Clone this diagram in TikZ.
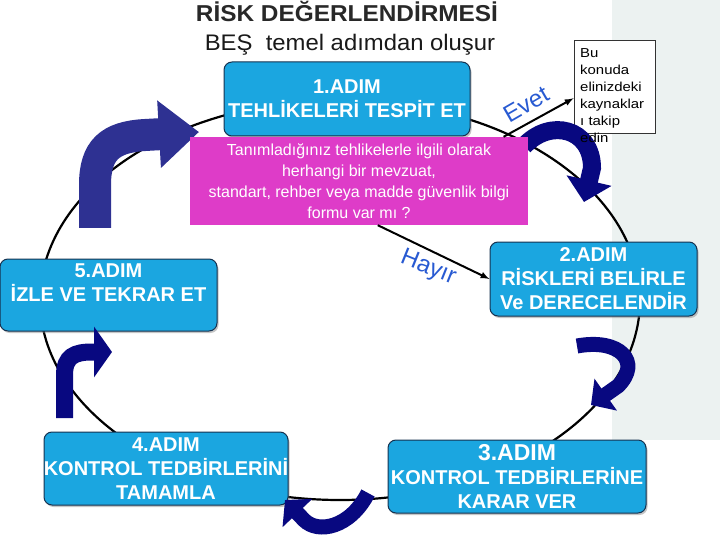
\documentclass[tikz,border=0pt]{standalone}
\usepackage{fontspec}
\setmainfont{Liberation Sans}
\newfontfamily\baslikfont{Liberation Sans}[FakeStretch=1.06]
\newfontfamily\notfont{Liberation Sans}[FakeStretch=1.15]
\usetikzlibrary{arrows.meta,shadows}
\definecolor{adimmavi}{RGB}{27,166,224}
\definecolor{kenar}{RGB}{22,50,80}
\definecolor{pembe}{RGB}{222,60,200}
\definecolor{lacivert}{RGB}{8,8,128}
\definecolor{morlacivert}{RGB}{46,49,146}
\definecolor{etiketmavi}{RGB}{40,90,210}
\definecolor{zemin}{RGB}{236,242,241}
\definecolor{baslikrenk}{RGB}{40,40,40}
\begin{document}
\begin{tikzpicture}[x=1pt, y=-1pt, >=latex,
    adim/.style={draw=kenar, line width=1pt, fill=adimmavi, rounded corners=8pt, text=white, align=center,
      font=\fontsize{20}{24}\selectfont\bfseries, inner sep=0pt,
      drop shadow={shadow xshift=1.5pt, shadow yshift=-2pt, opacity=0.45}},
    kalin/.style={draw=lacivert, line width=#1},
    ok/.style={->, line width=2pt},
    etiket/.style={text=etiketmavi, font=\fontsize{24}{24}\selectfont}]
  \useasboundingbox (0,0) rectangle (720,540);
  \fill[zemin] (612,0) rectangle (720,440);

  % title
  \node[font=\baslikfont\fontsize{23}{23}\selectfont\bfseries, text=baslikrenk, anchor=base, inner sep=0pt] (baslik) at (347,22) {RİSK DEĞERLENDİRMESİ};
  \node[font=\baslikfont\fontsize{22.5}{23}\selectfont, text=black!90, anchor=base, inner sep=0pt] (altbaslik) at (350,51) {BEŞ\ \ temel adımdan oluşur};

  % the cycle
  \draw[line width=2.2pt] (340,300) ellipse [x radius=300pt, y radius=200pt];

  % steps
  \node[adim, minimum width=246pt, minimum height=74pt] (adim1) at (347,99) {1.ADIM\\TEHLİKELERİ TESPİT ET};
  \node[adim, minimum width=207pt, minimum height=74pt] (adim2) at (593.5,279) {2.ADIM\\RİSKLERİ BELİRLE\\Ve DERECELENDİR};
  \node[adim, minimum width=258pt, minimum height=73pt] (adim3) at (517,476.5) {{\fontsize{23}{24}\selectfont 3.ADIM}\\KONTROL TEDBİRLERİNE\\KARAR VER};
  \node[adim, minimum width=244pt, minimum height=73pt] (adim4) at (166,468.5) {4.ADIM\\\makebox[0pt]{KONTROL TEDBİRLERİNİ}\\TAMAMLA};
  \node[adim, minimum width=217pt, minimum height=72pt] (adim5) at (108.5,295) {5.ADIM\\İZLE VE TEKRAR ET\\\mbox{}};
  \node[draw=black!80, fill=white, line width=0.8pt, minimum width=81pt, minimum height=93pt] (not) at (614.5,86.5) {};

  % thick turning arrows
  \draw[kalin=18pt, -{Triangle[length=22pt,width=45pt]}] (524,146) .. controls (550,118) and (592,128) .. (592,168) -- (584,202);
  \draw[kalin=32pt, draw=morlacivert, -{Triangle[length=40pt,width=65pt]}] (95,228) -- (95,185) .. controls (95,150) and (110,137) .. (145,135) -- (199,132);
  \draw[kalin=15pt, -{Triangle[length=18pt,width=38pt]}] (577,346) .. controls (620,338) and (642,362) .. (618,386) -- (591,405);
  \draw[kalin=15pt, -{Triangle[length=18pt,width=40pt]}] (368,493) .. controls (350,528) and (318,534) .. (304,520) -- (285,500);
  \draw[kalin=17pt, -{Triangle[length=18pt,width=50pt]}] (64.5,418) -- (64.5,375) .. controls (64.5,356) and (75,352) .. (92,352) -- (112,352);

  % question
  \node[fill=pembe, minimum width=338pt, minimum height=88pt, inner sep=0pt, text=white, align=center,
    font=\fontsize{16}{21}\selectfont] (soru) at (359,181)
    {Tanımladığınız tehlikelerle ilgili olarak\\herhangi bir mevzuat,\\standart, rehber veya madde güvenlik bilgi\\formu var mı ?};

  \draw[ok] (soru.17) -- (not.196);
  \draw[ok] (soru.293) -- (adim2.west);
  \node[etiket, rotate=30] (evet) at (526,104) {Evet};
  \node[etiket, rotate=-22] (hayir) at (428,268) {Hayır};

  \node[anchor=north west, align=left, inner sep=0pt, font=\notfont\fontsize{13}{17}\selectfont] (nottext) at (580,48)
    {Bu\\konuda\\elinizdeki\\kaynaklar\\ı takip\\edin};
\end{tikzpicture}
\end{document}
